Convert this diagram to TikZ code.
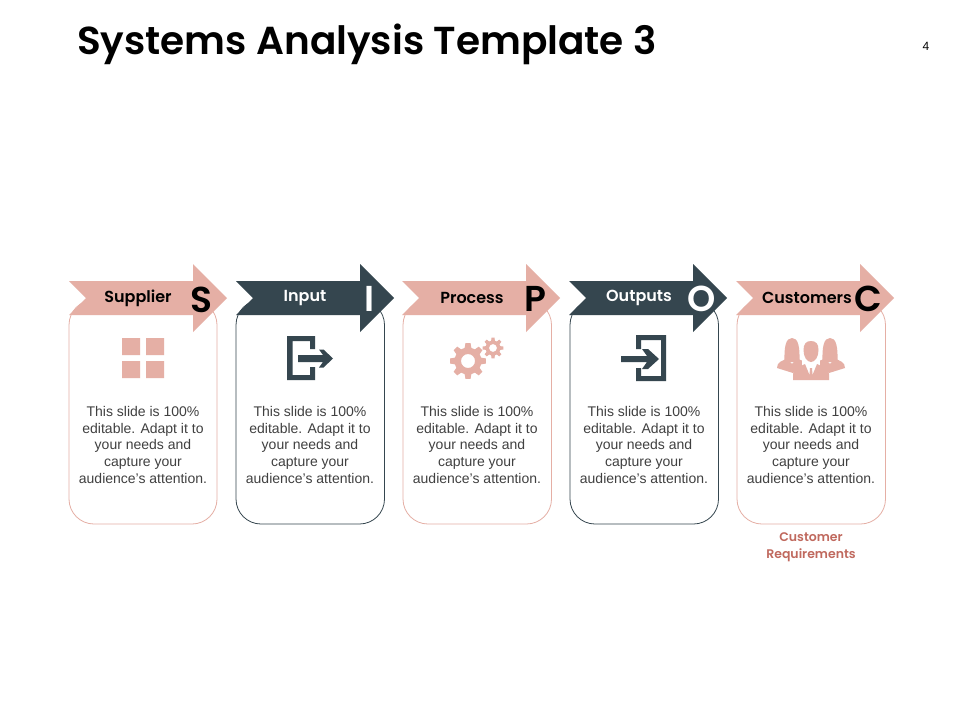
\documentclass[tikz,border=0pt]{standalone}
\usepackage{fontspec}
\setmainfont{Liberation Sans}
\newfontfamily\gothic{Poppins}[BoldFont={Poppins SemiBold}]
\definecolor{pinkc}{HTML}{E5AFA5}
\definecolor{darkc}{HTML}{35464F}
\definecolor{redc}{HTML}{C0695E}
\definecolor{bodyc}{HTML}{404040}
\tikzset{
  cardbox/.style={draw,line width=0.8pt,rounded corners=25pt,fill=white},
  bodytext/.style={align=center,text=bodyc,font=\fontsize{14}{16.7}\selectfont,inner sep=0pt},
  bandlabel/.style={font=\gothic\bfseries\fontsize{16}{18}\selectfont,inner sep=0pt},
  biglabel/.style={font=\gothic\bfseries\fontsize{36}{38}\selectfont,inner sep=0pt},
  band/.style={draw=none},
}
\newcommand{\bandshape}[2]{% x offset, colour
  \fill[#2,xshift=#1pt] (69,281) -- (193,281) -- (193,264) -- (227,298) -- (193,332) -- (193,315) -- (69,315) -- (86,298) -- cycle;}
\newcommand{\gearshape}[6]{% cx cy outer inner hole teeth
  \fill[pinkc,even odd rule]
   plot[samples=#6*4+1,domain=0:360,smooth cycle=false] ({0},{0}) -- cycle;
}
\newcommand{\gearpath}[6]{%
  \pgfmathsetmacro{\stp}{360/#6}
  \fill[pinkc,even odd rule] 
    \foreach \k in {1,...,#6}{
      \ifnum\k=1 ({#1+#3*cos(\k*\stp-\stp*0.18)},{#2+#3*sin(\k*\stp-\stp*0.18)})\else -- ({#1+#3*cos(\k*\stp-\stp*0.18)},{#2+#3*sin(\k*\stp-\stp*0.18)})\fi
      -- ({#1+#3*cos(\k*\stp+\stp*0.18)},{#2+#3*sin(\k*\stp+\stp*0.18)})
      -- ({#1+#4*cos(\k*\stp+\stp*0.32)},{#2+#4*sin(\k*\stp+\stp*0.32)})
      -- ({#1+#4*cos(\k*\stp+\stp*0.68)},{#2+#4*sin(\k*\stp+\stp*0.68)})
    } -- cycle (#1,#2) circle (#5);
}
\begin{document}
\begin{tikzpicture}[x=1pt,y=-1pt]
\useasboundingbox (0,0) rectangle (960,720);
\fill[white] (0,0) rectangle (960,720);

\node[anchor=west,inner sep=0pt,font=\gothic\bfseries\fontsize{39}{42}\selectfont] (title) at (77,44) {Systems Analysis Template 3};
\node[inner sep=0pt,font=\fontsize{12}{14}\selectfont] (pagenum) at (926,46) {4};

% cards
\draw[cardbox,draw=pinkc] (69,300) rectangle (217,524);
\draw[cardbox,draw=darkc] (236,300) rectangle (384.5,524);
\draw[cardbox,draw=pinkc] (403,300) rectangle (551.5,524);
\draw[cardbox,draw=darkc] (570,300) rectangle (718.5,524);
\draw[cardbox,draw=pinkc] (737,300) rectangle (885.5,524);
% cover the top of the cards above the bands is handled by the bands themselves
\fill[white] (60,270) rectangle (900,299);

% bands
\bandshape{0}{pinkc}
\bandshape{167}{darkc}
\bandshape{333}{pinkc}
\bandshape{500}{darkc}
\bandshape{667}{pinkc}

\node[bandlabel,text=black] (l1) at (138,298) {Supplier};
\node[bandlabel,text=white] (l2) at (305,298) {Input};
\node[bandlabel,text=black] (l3) at (472,298) {Process};
\node[bandlabel,text=white] (l4) at (639,298) {Outputs};
\node[bandlabel,text=black] (l5) at (807,298) {Customers};

\node[biglabel,text=black] (s) at (201,300) {S};
\node[biglabel,text=white] (i) at (369.5,299) {I};
\node[biglabel,text=black] (p) at (535,299) {P};
\node[biglabel,text=white] (o) at (702,299) {O};
\node[biglabel,text=black] (c) at (868,299) {C};

% body text
\foreach \n/\x in {a/143,b/310,d/477,e/644,f/811}{
  \node[bodytext,anchor=north] (t\n) at (\x,406) {This slide is 100\%\\editable. Adapt it to\\your needs and\\capture your\\audience's attention.};
}
\node[align=center,inner sep=0pt,text=redc,font=\gothic\bfseries\fontsize{12.5}{17}\selectfont] (req) at (811,547.5) {Customer\\Requirements};

% icon 1: squares
\fill[pinkc] (122,338) rectangle (140,355) (146,338) rectangle (164,355)
             (122,361) rectangle (140,378) (146,361) rectangle (164,378);

% icon 2: exit door
\fill[darkc] (287,336) -- (315,336) -- (315,349) -- (310,349) -- (310,341) -- (292.5,341) -- (292.5,375) -- (310,375) -- (310,367) -- (315,367) -- (315,380) -- (287,380) -- cycle;
\fill[darkc] (298,355) -- (323,355) -- (319,349.5) -- (323.5,349.5) -- (333,358.5) -- (323.5,367.5) -- (319,367.5) -- (323,362) -- (298,362) -- cycle;

% icon 3: gears
\gearpath{468}{361}{18}{13.5}{7}{8}
\gearpath{493}{348}{10.5}{7.5}{4}{8}

% icon 4: enter door
\fill[darkc] (636,335) -- (666,335) -- (666,381) -- (636,381) -- (636,368) -- (641,368) -- (641,376) -- (661,376) -- (661,340) -- (641,340) -- (641,349) -- (636,349) -- cycle;
\fill[darkc] (621,356) -- (647,356) -- (642,349) -- (648,349) -- (659,359) -- (648,369) -- (642,369) -- (647,362) -- (621,362) -- cycle;

% icon 5: people
\fill[pinkc] (784.5,362) .. controls (784,346) and (786,338) .. (792,338) .. controls (798,338) and (800,346) .. (799.5,362) -- cycle;
\fill[pinkc] (822.5,362) .. controls (822,346) and (824,338) .. (830,338) .. controls (836,338) and (838,346) .. (837.5,362) -- cycle;
\fill[pinkc] (777,368) .. controls (777,362) and (782,361) .. (787,358.5) -- (792,364) -- (797,358.5) -- (803,361) -- (803,366) -- (793,373) -- cycle;
\fill[pinkc] (845,368) .. controls (845,362) and (840,361) .. (835,358.5) -- (830,364) -- (825,358.5) -- (819,361) -- (819,366) -- (829,373) -- cycle;
\fill[white] (802,343) rectangle (820,366);
\fill[pinkc] (803.5,350) .. controls (803.5,344) and (806,341) .. (811,341) .. controls (816,341) and (818.5,344) .. (818.5,350) .. controls (818.5,357) and (815,362) .. (811,362) .. controls (807,362) and (803.5,357) .. (803.5,350) -- cycle;
\fill[pinkc] (793,380) -- (793,374) .. controls (793,369) and (799,367) .. (805,364) -- (809.5,375) -- (810,368) -- (812,368) -- (812.5,375) -- (817,364) .. controls (823,367) and (829,369) .. (829,374) -- (829,380) -- cycle;
\end{tikzpicture}
\end{document}
